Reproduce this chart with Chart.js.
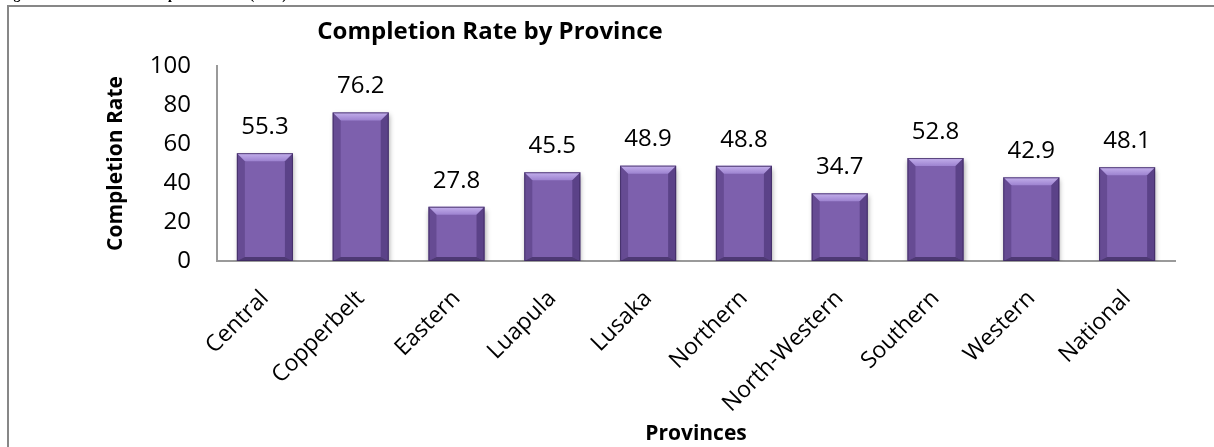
<!DOCTYPE html>
<html>
<head>
<meta charset="utf-8">
<script src="https://cdn.jsdelivr.net/npm/chart.js@4.4.1/dist/chart.umd.min.js"></script>
<style>
  html, body { margin: 0; padding: 0; background: #fff; overflow: hidden; }
  #wrap { position: relative; width: 1214px; height: 447px; overflow: hidden; }
  #caption {
    position: absolute; left: 1px; top: -13px;
    font: bold 14px "Liberation Serif", "DejaVu Serif", serif;
    color: #000; white-space: nowrap; z-index: 2;
  }
  canvas { position: absolute; left: 0; top: 0; }
</style>
</head>
<body>
<div id="wrap">
  <div id="caption">Figure 12: Education - Completion Rates (2006)</div>
  <canvas id="chart" width="1214" height="447"></canvas>
</div>
<script>
// Provinces and their completion rates
const provinces = ['Central', 'Copperbelt', 'Eastern', 'Luapula', 'Lusaka', 'Northern',
                   'North-Western', 'Southern', 'Western', 'National'];
const completionRates = [55.3, 76.2, 27.8, 45.5, 48.9, 48.8, 34.7, 52.8, 42.9, 48.1];
const yTicks = [0, 20, 40, 60, 80, 100];

const chartTitle = 'Completion Rate by Province';
const yTitle = 'Completion Rate';
const xTitle = 'Provinces';

const FONT = '"Open Sans", "DejaVu Sans", sans-serif';

// Bevelled purple bars with a soft drop shadow, value labels, title and frame
const decorPlugin = {
  id: 'decor',
  beforeDraw(chart) {
    const ctx = chart.ctx;
    ctx.save();
    ctx.fillStyle = '#ffffff';
    ctx.fillRect(0, 0, chart.width, chart.height);
    // outer frame
    ctx.strokeStyle = '#878787';
    ctx.lineWidth = 2;
    ctx.strokeRect(8, 6, chart.width + 20, chart.height + 20);
    // chart title
    ctx.fillStyle = '#000';
    ctx.font = 'bold 24px ' + FONT;
    ctx.textAlign = 'center';
    ctx.textBaseline = 'middle';
    ctx.fillText(chartTitle, 490, 32);
    ctx.restore();
  },
  beforeDatasetsDraw(chart) {
    const ctx = chart.ctx;
    ctx.save();
    ctx.shadowColor = 'rgba(0,0,0,0.35)';
    ctx.shadowBlur = 5;
    ctx.shadowOffsetX = 1;
    ctx.shadowOffsetY = 3;
  },
  afterDatasetsDraw(chart) {
    const ctx = chart.ctx;
    ctx.restore();
    const meta = chart.getDatasetMeta(0);
    ctx.save();
    meta.data.forEach((bar, i) => {
      const left = bar.x - bar.width / 2;
      const right = bar.x + bar.width / 2;
      const top = bar.y;
      const bottom = bar.base;
      const b = 8;
      // top face
      ctx.beginPath();
      ctx.moveTo(left, top);
      ctx.lineTo(right, top);
      ctx.lineTo(right - b, top + b);
      ctx.lineTo(left + b, top + b);
      ctx.closePath();
      const tg = ctx.createLinearGradient(0, top, 0, top + b);
      tg.addColorStop(0, '#c4b0ec');
      tg.addColorStop(1, '#9d83d0');
      ctx.fillStyle = tg;
      ctx.fill();
      // left face
      ctx.beginPath();
      ctx.moveTo(left, top);
      ctx.lineTo(left + b, top + b);
      ctx.lineTo(left + b, bottom - 4);
      ctx.lineTo(left, bottom);
      ctx.closePath();
      ctx.fillStyle = 'rgba(60,38,100,0.35)';
      ctx.fill();
      // right face
      ctx.beginPath();
      ctx.moveTo(right, top);
      ctx.lineTo(right - b, top + b);
      ctx.lineTo(right - b, bottom - 4);
      ctx.lineTo(right, bottom);
      ctx.closePath();
      ctx.fillStyle = 'rgba(50,30,90,0.45)';
      ctx.fill();
      // bottom face
      ctx.beginPath();
      ctx.moveTo(left, bottom);
      ctx.lineTo(right, bottom);
      ctx.lineTo(right - b, bottom - 4);
      ctx.lineTo(left + b, bottom - 4);
      ctx.closePath();
      ctx.fillStyle = 'rgba(40,25,70,0.55)';
      ctx.fill();
      // outline
      ctx.strokeStyle = 'rgba(60,40,95,0.8)';
      ctx.lineWidth = 1;
      ctx.strokeRect(left + 0.5, top + 0.5, bar.width - 1, bottom - top - 1);
      // value label
      ctx.fillStyle = '#000';
      ctx.font = '24px ' + FONT;
      ctx.textAlign = 'center';
      ctx.textBaseline = 'middle';
      ctx.fillText(completionRates[i].toFixed(1), bar.x, top - 26);
    });
    ctx.restore();
  }
};

const canvas = document.getElementById('chart');

new Chart(canvas, {
  type: 'bar',
  data: {
    labels: provinces,
    datasets: [{
      data: completionRates,
      backgroundColor(c) {
        const el = c.element;
        if (!el || !el.width) return '#7d60ad';
        const x0 = el.x - el.width / 2, x1 = el.x + el.width / 2;
        const g = c.chart.ctx.createLinearGradient(x0, 0, x1, 0);
        g.addColorStop(0, '#6a4f98');
        g.addColorStop(0.5, '#8566b6');
        g.addColorStop(1, '#6b4f99');
        return g;
      },
      borderWidth: 0,
      barPercentage: 0.585,
      categoryPercentage: 1.0
    }]
  },
  options: {
    responsive: false,
    animation: false,
    events: [],
    layout: { padding: { left: 95, top: 66, right: 39, bottom: 0 } },
    plugins: {
      legend: { display: false },
      tooltip: { enabled: false },
      title: { display: false }
    },
    scales: {
      x: {
        grid: { display: false, drawTicks: false },
        border: { display: true, color: '#9a9a9a', width: 2 },
        ticks: {
          color: '#000',
          font: { family: FONT, size: 23 },
          maxRotation: 45, minRotation: 45,
          padding: 24,
          autoSkip: false
        },
        title: {
          display: true, text: xTitle, color: '#000',
          font: { family: FONT, size: 21, weight: 'bold' },
          padding: { top: 0, bottom: 0 }
        },
        afterFit(scale) { scale.height = 186; }
      },
      y: {
        min: 0, max: 100,
        afterBuildTicks(scale) { scale.ticks = yTicks.map(v => ({ value: v })); },
        grid: { display: false, drawTicks: false },
        border: { display: true, color: '#9a9a9a', width: 2 },
        ticks: {
          color: '#000',
          font: { family: FONT, size: 24 },
          padding: 26
        },
        title: {
          display: true, text: yTitle, color: '#000',
          font: { family: FONT, size: 21, weight: 'bold' },
          padding: { top: 8, bottom: 0 }
        },
        afterFit(scale) { scale.width = 122; }
      }
    }
  },
  plugins: [decorPlugin]
});
</script>
</body>
</html>
